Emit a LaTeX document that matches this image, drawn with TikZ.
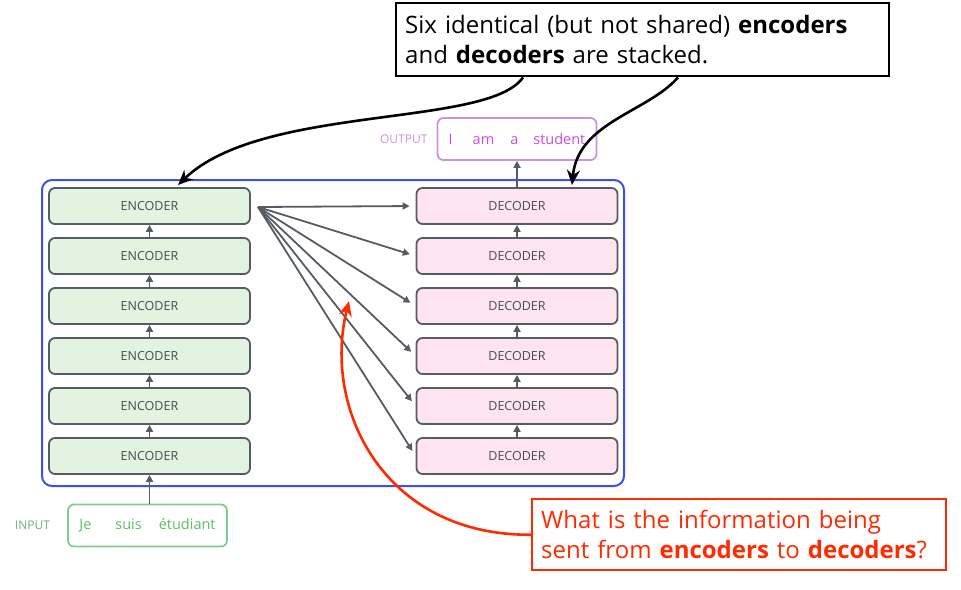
\documentclass[tikz,border=0pt]{standalone}
\usepackage{fontspec}
\setmainfont{Open Sans}
\usetikzlibrary{arrows.meta, positioning, calc}

\definecolor{frameblue}{RGB}{58,80,240}
\definecolor{boxgray}{RGB}{86,92,100}
\definecolor{labelgray}{RGB}{70,76,84}
\definecolor{encfill}{RGB}{226,244,224}
\definecolor{decfill}{RGB}{253,228,240}
\definecolor{ingreen}{RGB}{128,204,146}
\definecolor{intext}{RGB}{92,190,104}
\definecolor{outpurple}{RGB}{204,146,220}
\definecolor{outtext}{RGB}{196,80,214}
\definecolor{askred}{RGB}{255,42,0}

\begin{document}
\begin{tikzpicture}[x=1pt,y=-1pt,
  block/.style={draw=boxgray, line width=1.8pt, rounded corners=6pt,
    minimum width=201pt, minimum height=36pt, inner sep=0pt,
    font=\fontsize{12.5}{14}\selectfont, text=labelgray},
  encbox/.style={block, fill=encfill},
  decbox/.style={block, fill=decfill},
  link/.style={draw=boxgray, line width=1.8pt, -{Triangle[length=7pt,width=7pt]}},
  wordbox/.style={line width=1.8pt, rounded corners=6pt, minimum width=159pt,
    minimum height=42pt, inner sep=0pt, font=\fontsize{14.5}{16}\selectfont},
  tag/.style={font=\fontsize{12}{13}\selectfont, inner sep=0pt},
  callout/.style={line width=2.4pt, inner xsep=9pt, inner ysep=0pt, align=left,
    anchor=north west, font=\fontsize{24}{30}\selectfont},
  pointer/.style={line width=2.6pt, -{Stealth[length=15pt,width=13pt]}}]

\useasboundingbox (0,0) rectangle (961,589);

% the stack frame
\draw [frameblue, line width=2pt, rounded corners=10pt] (42,180) rectangle (624,486);

% encoders and decoders, 1 at the bottom
\foreach \i in {1,...,6} {
  \pgfmathsetmacro{\yy}{456-50*(\i-1)}
  \node [encbox] (enc\i) at (149.5,\yy) {ENCODER};
  \node [decbox] (dec\i) at (517,\yy) {DECODER};
}
\foreach \i [evaluate=\i as \j using int(\i+1)] in {1,...,5} {
  \draw [link] (enc\i.north) -- (enc\j.south);
  \draw [link] (dec\i.north) -- (dec\j.south);
}

% top encoder feeds every decoder
\coordinate (fan) at (258,207);
\foreach \i in {1,...,6}
  \draw [link, shorten >=6pt] (fan) -- (dec\i.west);

% input and output words
\node [wordbox, draw=ingreen, text=intext] (inp) at (147.5,525.5)
  {Je\hspace{24pt}suis\hspace{17pt}étudiant};
\node [tag, text=ingreen!85!black, left=17pt of inp] (intag) {INPUT};
\draw [link] (enc1.south |- inp.north) -- (enc1.south);

\node [wordbox, draw=outpurple, text=outtext] (outp) at (517,139)
  {I\hspace{20pt}am\hspace{16pt}a\hspace{15pt}student};
\node [tag, text=outpurple, left=9pt of outp] (outtag) {OUTPUT};
\draw [link] (dec6.north) -- (outp.south);

% callouts
\node [callout, draw=black, minimum width=493pt, minimum height=73pt, text width=475pt]
  (note) at (395,2)
  {Six identical (but not shared) \textbf{encoders}\\and \textbf{decoders} are stacked.};
\node [callout, draw=askred, text=askred, minimum width=414pt, minimum height=71pt,
  text width=396pt] (ask) at (531,498)
  {What is the information being\\sent from \textbf{encoders} to \textbf{decoders}?};

\coordinate (n1) at ($(note.south west)+(128,0)$);
\coordinate (n2) at ($(note.south west)+(283,0)$);
\coordinate (t1) at (178,185);
\coordinate (t2) at (572,185);
\coordinate (t3) at (349,301);
\draw [pointer] (n1) .. controls (488,128) and (262,104) .. (t1);
\draw [pointer] (n2) .. controls (648,112) and (578,122) .. (t2);
\draw [pointer, askred] (ask.west) .. controls (385,536) and (322,410) .. (t3);

\end{tikzpicture}
\end{document}
